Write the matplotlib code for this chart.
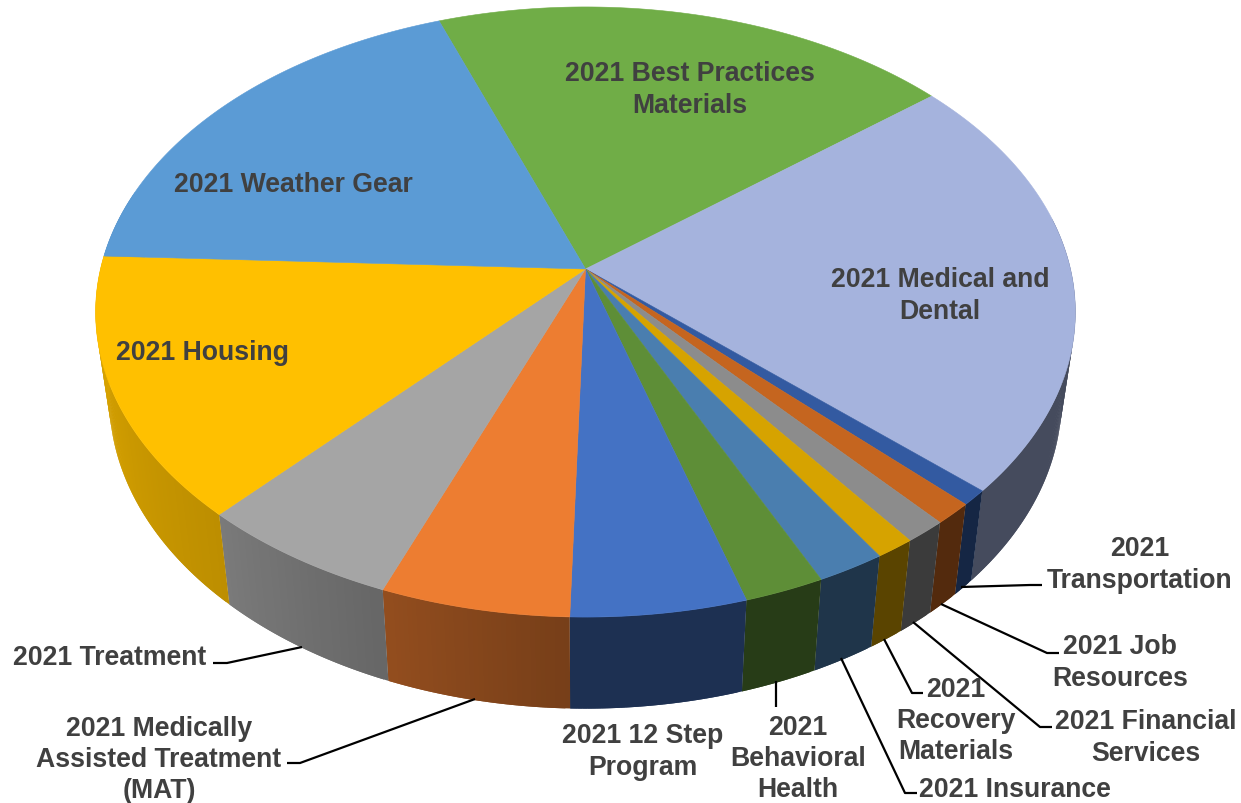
import numpy as np
import matplotlib
matplotlib.use("Agg")
import matplotlib.pyplot as plt

# Slices, clockwise from the Best Practices slice
categories = ["2021 Best Practices\nMaterials", "2021 Medical and\nDental", "2021\nTransportation",
              "2021 Job\nResources", "2021 Financial\nServices", "2021\nRecovery\nMaterials",
              "2021 Insurance", "2021\nBehavioral\nHealth", "2021 12 Step\nProgram",
              "2021 Medically\nAssisted Treatment\n(MAT)", "2021 Treatment", "2021 Housing",
              "2021 Weather Gear"]
shares = [19.72, 22.56, 0.81, 1.14, 1.22, 1.14, 2.00, 2.33, 5.08, 5.47, 5.92, 13.86, 18.75]
colors = ["#70AD47", "#A5B3DD", "#335AA1", "#C5651F", "#8C8C8C", "#D6A300", "#4A7EAF",
          "#5E8E37", "#4472C4", "#ED7D31", "#A5A5A5", "#FFC000", "#5B9BD5"]
first_angle = 340.0

# Label centres and leader lines, in image pixels
label_pos = [(690, 87), (940, 293), (1140, 562), (1120, 660), (1146, 735), (956, 718), (1015, 787),
             (798, 756), (643, 749), (159, 757), (110, 655), (203, 350), (293, 182)]
leaders = [[(1042, 586), (1030, 586), (961, 588)],
           [(1059, 654), (1047, 654), (941, 605)],
           [(1052, 728), (1040, 728), (913, 623)],
           [(923, 694), (912, 694), (884, 640)],
           [(917, 794), (905, 794), (841, 659)],
           [(776, 682), (776, 708)],
           [(287, 764), (300, 764), (475, 700)],
           [(213, 664), (227, 664), (302, 648)]]

# Perspective of the disc
cx, cy = 585.5, 270
A, B, k = 485, 299, 0.141


def top_rim(theta):
    t = np.radians(theta)
    u, v = np.sin(t), np.cos(t)
    d = 1 + k * v
    return cx + A * u / d, cy - B * v / d


def bottom_rim(theta):
    x, y = top_rim(theta)
    return cx + 0.972 * (x - cx), cy + 1.016 * (y - cy) + 86


def shade(theta):
    # side wall gets lighter towards the left
    if theta <= 181.6:
        return 0.42
    return np.interp(theta, [181.6, 201.3, 222.6, 272.5], [0.5, 0.62, 0.74, 0.88])


fig = plt.figure(figsize=(12.41, 8.04), dpi=100)
ax = fig.add_axes([0, 0, 1, 1])
ax.set_xlim(0, 1241)
ax.set_ylim(804, 0)
ax.axis("off")

edges = first_angle + np.cumsum([0] + [s * 3.6 for s in shares])

# Side walls, each strip runs under the next one so no seams show
for i, c in enumerate(colors):
    rgb = np.array(matplotlib.colors.to_rgb(c))
    a0, a1 = edges[i], edges[i + 1]
    steps = np.append(np.arange(a0, a1, 0.5), a1)
    for t0, t1 in zip(steps[:-1], steps[1:]):
        mid = ((t0 + t1) / 2) % 360
        if mid < 80 or mid > 285:
            continue
        t2 = min(t1 + 0.5, a1)
        x0, y0 = top_rim(t0)
        x1, y1 = top_rim(t2)
        x2, y2 = bottom_rim(t2)
        x3, y3 = bottom_rim(t0)
        ax.fill([x0, x1, x2, x3], [y0, y1, y2, y3], color=rgb * shade(mid), lw=0, zorder=2 + i * 0.01)

# Top face
for i, c in enumerate(colors):
    t = np.linspace(edges[i], edges[i + 1], 120)
    x, y = top_rim(t)
    ax.fill(np.r_[cx, x], np.r_[cy, y], color=c, lw=0.4, zorder=3)

for pts in leaders:
    xs, ys = zip(*pts)
    ax.plot(xs, ys, color="black", lw=1.6, zorder=4, solid_capstyle="butt")

for name, (lx, ly) in zip(categories, label_pos):
    ax.text(lx, ly + 3, name, ha="center", va="center", family="Liberation Sans", weight="bold",
            fontsize=19.2, color="#404040", linespacing=1.27, zorder=5)

fig.savefig("out.png", dpi=100, facecolor="white")
